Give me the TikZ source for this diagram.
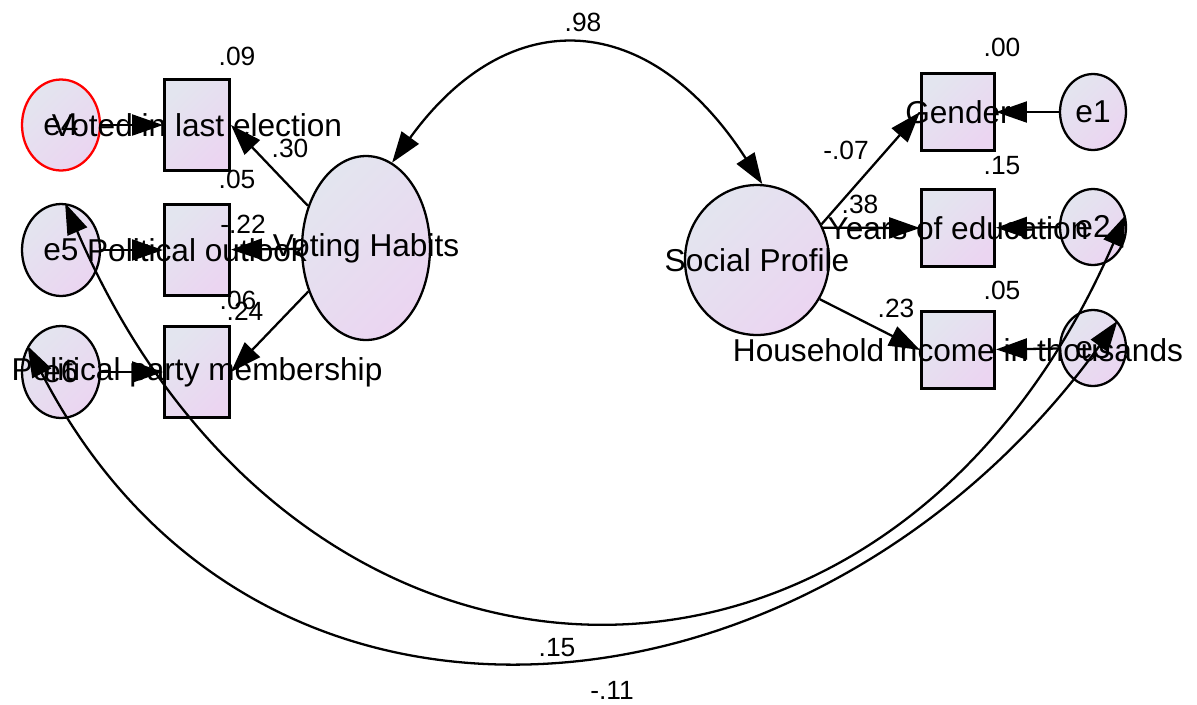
\documentclass[tikz,border=0pt]{standalone}
\usepackage{fontspec}
\setmainfont{Liberation Sans}
\usetikzlibrary{shapes.geometric, arrows.meta}

\definecolor{varlight}{RGB}{227,229,239}
\definecolor{vardark}{RGB}{235,213,241}

\begin{document}
\begin{tikzpicture}[x=0.02cm, y=-0.02cm, line width=1.3pt,
    >={Triangle[length=0.62cm, width=0.42cm]},
    varfill/.style={top color=varlight, bottom color=vardark, shading angle=45},
    obs/.style={varfill, draw, rectangle, line width=1.7pt, inner sep=0pt},
    err/.style={varfill, draw, ellipse, inner sep=0pt},
    lab/.style={font=\fontsize{18}{20}\selectfont},
    num/.style={font=\fontsize{15}{17}\selectfont}]
  \useasboundingbox (0, 0) rectangle (1197, 704);

  % latent variables
  \node[err, minimum width=2.56cm, minimum height=3.68cm] (vh) at (366, 248) {};
  \node[err, minimum width=2.88cm, minimum height=3.0cm] (sp) at (757, 260) {};

  % observed variables, left and right
  \foreach \n/\y in {voted/125, political/250, party/372}
    \node[obs, minimum width=1.3cm, minimum height=1.82cm] (\n) at (197, \y) {};
  \foreach \n/\y in {gender/112, years/228, income/350}
    \node[obs, minimum width=1.46cm, minimum height=1.54cm] (\n) at (958, \y) {};

  % error terms
  \node[err, draw=red, minimum width=1.56cm, minimum height=1.82cm] (e4) at (61, 125) {};
  \foreach \n/\y in {e5/250, e6/372}
    \node[err, minimum width=1.56cm, minimum height=1.84cm] (\n) at (61, \y) {};
  \foreach \n/\y in {e1/112, e2/227, e3/348}
    \node[err, minimum width=1.32cm, minimum height=1.52cm] (\n) at (1093, \y) {};

  % regression paths
  \draw[->] (e4) -- (voted);
  \draw[->] (e5) -- (political);
  \draw[->] (e6) -- (party);
  \draw[->] (vh.144) -- (voted.east);
  \draw[->] (vh) -- (political);
  \draw[->] (vh.217) -- (party.east);
  \draw[->] (sp.29) -- (gender.west);
  \draw[->] (sp.26) -- (years.west);
  \draw[->] (sp.-32) -- (income.west);
  \draw[->] (e1) -- (gender);
  \draw[->] (e2) -- (years);
  \draw[->] (e3) -- (income);

  % covariances
  \draw[<->] (vh.73) .. controls (510, 0) and (650, 10) .. (sp.86);
  \draw[<->] (e5.85) .. controls (300, 748) and (890, 760) .. (e2.20);
  \draw[<->] (e6.142) .. controls (262, 800) and (822, 730) .. (e3.48);

  % variable names on top
  \foreach \n/\t in {e4/e4, e5/e5, e6/e6, e1/e1, e2/e2, e3/e3,
      voted/Voted in last election, political/Political outlook,
      party/Political party membership, vh/Voting Habits, sp/Social Profile,
      gender/Gender, years/Years of education, income/Household income in thousands}
    \node[lab] (\n-t) at (\n) {\t};

  % estimates
  \node[num] (cov-top) at (583, 22) {.98};
  \node[num] (r-voted) at (237, 56) {.09};
  \node[num] (w-voted) at (290, 148) {.30};
  \node[num] (r-political) at (237, 179) {.05};
  \node[num] (w-political) at (243, 224) {-.22};
  \node[num] (r-party) at (238, 300) {.06};
  \node[num] (w-party) at (245, 311) {.24};
  \node[num] (r-gender) at (1002, 47) {.00};
  \node[num] (w-gender) at (846, 150) {-.07};
  \node[num] (r-years) at (1002, 166) {.15};
  \node[num] (w-years) at (860, 204) {.38};
  \node[num] (r-income) at (1002, 290) {.05};
  \node[num] (w-income) at (896, 308) {.23};
  \node[num] (cov-a) at (557, 648) {.15};
  \node[num] (cov-b) at (612, 690) {-.11};
\end{tikzpicture}
\end{document}
